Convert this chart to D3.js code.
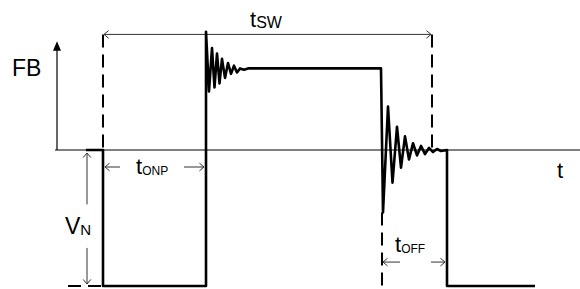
<!DOCTYPE html>
<html>
<head>
<meta charset="utf-8">
<script src="https://cdn.jsdelivr.net/npm/d3@7"></script>
<style>
  body { margin: 0; background: #fff; }
  svg { display: block; font-family: Arial, "Liberation Sans", sans-serif; }
</style>
</head>
<body>
<div id="chart"></div>
<script>
// time (arbitrary units) and FB voltage (normalised, -1 = -V_N) of the waveform
const sigT = [6.2, 9.6, 9.6, 30.2, 30.2,
  30.8, 31.4, 31.9, 32.4, 32.9, 33.4, 34.0, 34.6, 35.2, 35.8, 36.4, 37.0, 37.8, 38.6,
  65.2, 65.6, 66.6, 67.5, 68.4, 69.2, 70.0, 70.8, 71.6, 72.4, 73.2, 74.0, 74.8, 75.6, 76.4, 77.2,
  78.4, 78.4, 96];
const sigV = [0, 0, -1, -1, 0.87,
  0.43, 0.75, 0.46, 0.71, 0.49, 0.67, 0.53, 0.64, 0.56, 0.62, 0.57, 0.60, 0.59, 0.6,
  0.6, -0.46, 0.32, -0.24, 0.17, -0.13, 0.1, -0.07, 0.05, -0.04, 0.03, -0.03, 0.015, -0.015, 0.007, -0.007,
  0, -1, -1];

// timing marks
const tOn = 9.6, tRise = 30.2, tFall = 65.4, tSwEnd = 75.4, tOffEnd = 78.4;
const vTop = 0.85, vUnder = -0.46, vMin = -1;

const width = 580, height = 289;
const x = d3.scaleLinear().domain([0, 105]).range([55, 580]);
const y = d3.scaleLinear().domain([-1, 0]).range([286, 150]);

const svg = d3.select("#chart").append("svg")
  .attr("width", width).attr("height", height);

// -- axes --
svg.append("line")
  .attr("x1", x(0)).attr("x2", x(105))
  .attr("y1", y(0)).attr("y2", y(0))
  .attr("stroke", "#000").attr("stroke-width", 1.2);

const axX = x(0.4);
svg.append("line")
  .attr("x1", axX).attr("x2", axX)
  .attr("y1", y(0)).attr("y2", y(0.75))
  .attr("stroke", "#000").attr("stroke-width", 1.2);
svg.append("path")
  .attr("d", `M${axX},${y(0.8)} L${axX - 4},${y(0.73)} L${axX + 4},${y(0.73)} Z`)
  .attr("fill", "#000");

// -- dashed reference lines --
function dashed(x1, y1, x2, y2) {
  svg.append("line")
    .attr("x1", x1).attr("y1", y1).attr("x2", x2).attr("y2", y2)
    .attr("stroke", "#000").attr("stroke-width", 2)
    .attr("stroke-dasharray", "13,7");
}
dashed(x(tOn), y(vTop), x(tOn), y(0));
dashed(x(tSwEnd), y(vTop), x(tSwEnd), y(0));
dashed(x(tFall), y(vUnder), x(tFall), height);
dashed(x(2.6), y(vMin), x(tOn), y(vMin));

// -- thin dimension arrows with open heads --
function seg(x1, y1, x2, y2) {
  svg.append("line")
    .attr("x1", x1).attr("y1", y1).attr("x2", x2).attr("y2", y2)
    .attr("stroke", "#333").attr("stroke-width", 1);
}
function head(px, py, ang) {
  // ang = direction the arrow points to (radians)
  const l = 6, a = 0.7;
  const p = d3.path();
  p.moveTo(px - l * Math.cos(ang - a), py - l * Math.sin(ang - a));
  p.lineTo(px, py);
  p.lineTo(px - l * Math.cos(ang + a), py - l * Math.sin(ang + a));
  svg.append("path").attr("d", p.toString())
    .attr("fill", "none").attr("stroke", "#333").attr("stroke-width", 1);
}

// t_SW
seg(x(tOn) + 1, y(vTop), x(tSwEnd) - 1, y(vTop));
head(x(tOn) + 1, y(vTop), Math.PI);
head(x(tSwEnd) - 1, y(vTop), 0);

// t_ONP
const yOn = y(-0.125);
seg(x(tOn) + 2, yOn, x(tOn) + 17, yOn);
seg(x(tRise) - 22, yOn, x(tRise) - 2, yOn);
head(x(tOn) + 2, yOn, Math.PI);
head(x(tRise) - 2, yOn, 0);

// V_N
const xVn = x(6.4);
seg(xVn, y(0) + 3, xVn, y(-0.4));
seg(xVn, y(-0.72), xVn, y(vMin) - 2);
head(xVn, y(0) + 3, -Math.PI / 2);
head(xVn, y(vMin) - 2, Math.PI / 2);

// t_OFF
const yOff = y(-0.824);
seg(x(tFall) + 1, yOff, x(tFall) + 18, yOff);
seg(x(tOffEnd) - 16, yOff, x(tOffEnd) - 2, yOff);
head(x(tFall) + 1, yOff, Math.PI);
head(x(tOffEnd) - 2, yOff, 0);

// -- waveform --
const pts = sigT.map((t, i) => [x(t), y(sigV[i])]);
svg.append("path")
  .attr("d", d3.line()(pts))
  .attr("fill", "none")
  .attr("stroke", "#000")
  .attr("stroke-width", 2.6)
  .attr("stroke-linejoin", "round");

// -- labels --
function label(px, py, main, sub, size, subSize) {
  const t = svg.append("text").attr("x", px).attr("y", py)
    .attr("font-size", size).attr("fill", "#000");
  t.append("tspan").text(main);
  if (sub) t.append("tspan").attr("font-size", subSize).attr("dy", 1).text(sub);
}
label(12, 76, "FB", null, 23);
label(250, 27, "t", "SW", 22, 16);
label(136, 174, "t", "ONP", 22, 12);
label(65, 234, "V", "N", 23, 15);
label(395, 252, "t", "OFF", 22, 12);
label(557, 178, "t", null, 22);
</script>
</body>
</html>
